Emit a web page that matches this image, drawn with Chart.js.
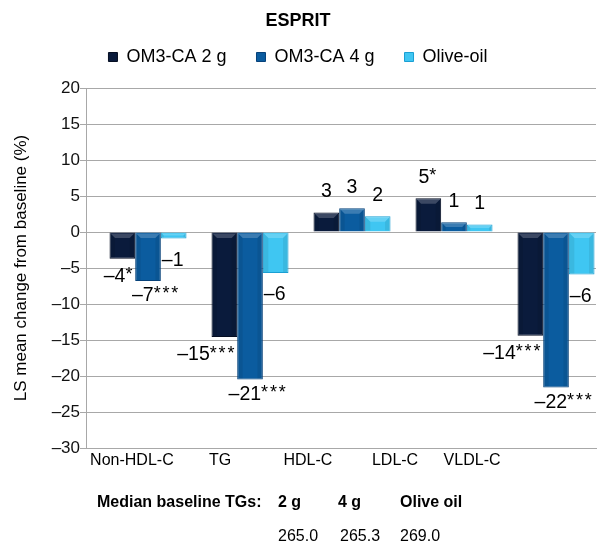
<!DOCTYPE html>
<html><head><meta charset="utf-8">
<style>html,body{margin:0;padding:0;background:#fff}#wrap{width:601px;height:544px}</style>
<script src="https://cdn.jsdelivr.net/npm/chart.js@4"></script>
</head><body><div id="wrap"><canvas id="c" width="601" height="544"></canvas></div>
<script>
// ---- data ----
const chartTitle = 'ESPRIT';
const categories = ['Non-HDL-C', 'TG', 'HDL-C', 'LDL-C', 'VLDL-C'];
const seriesNames = ['OM3-CA 2 g', 'OM3-CA 4 g', 'Olive-oil'];
const om3ca2g = [-3.7, -14.6, 2.7, 4.7, -14.4];
const om3ca4g = [-6.8, -20.5, 3.3, 1.35, -21.6];
const oliveOil = [-0.9, -5.7, 2.2, 1.05, -5.9];
const labels2g = ['\u20134*', '\u201315***', '3', '5*', '\u201314***'];
const labels4g = ['\u20137***', '\u201321***', '3', '1', '\u201322***'];
const labelsOlive = ['\u20131', '\u20136', '2', '1', '\u20136'];
const yMin = -30, yMax = 20, yStep = 5;
const yTitle = 'LS mean change from baseline (%)';
const baselineCaption = 'Median baseline TGs:';
const baselineHeaders = ['2 g', '4 g', 'Olive oil'];
const baselineTGs = ['265.0', '265.3', '269.0'];

// ---- styles ----
const FONT = "'Liberation Sans', Arial, Helvetica, sans-serif";
Chart.defaults.font.family = FONT;
Chart.defaults.color = '#000';
const fills = ['#0a1b3c', '#0b5c9f', '#3fc6f2'];
const borders = ['#050e22', '#07427a', '#1a9fd3'];
const GRID = '#a8a8a8';
const series = [om3ca2g, om3ca4g, oliveOil];
const labelSets = [labels2g, labels4g, labelsOlive];
const catLabelFrac = [0.090, 0.263, 0.435, 0.606, 0.757];

function fmtNum(v) { return v < 0 ? '\u2013' + Math.abs(v) : String(v); }

function drawValueLabel(ctx, text, x, y, align) {
  const m = text.match(/^(.*?)(\*+)$/);
  const main = m ? m[1] : text;
  const nStars = m ? m[2].length : 0;
  ctx.font = '19.5px ' + FONT;
  const mainW = ctx.measureText(main).width;
  const starAdv = 8.8;
  const total = mainW + nStars * starAdv;
  let sx = x;
  if (align === 'center') sx = x - total / 2;
  else if (align === 'right') sx = x - total;
  ctx.textAlign = 'left';
  ctx.textBaseline = 'middle';
  ctx.fillStyle = '#000';
  ctx.fillText(main, sx, y);
  ctx.font = '18px ' + FONT;
  for (let k = 0; k < nStars; k++) {
    ctx.fillText('*', sx + mainW + k * starAdv, y - 1.5);
  }
}

const decorPlugin = {
  id: 'decor',
  afterDatasetsDraw(chart) {
    const ctx = chart.ctx;
    chart.data.datasets.forEach((ds, di) => {
      const meta = chart.getDatasetMeta(di);
      meta.data.forEach((bar, i) => {
        const p = bar.getProps(['x', 'y', 'base', 'width'], true);
        const l = p.x - p.width / 2, r = p.x + p.width / 2;
        const t = Math.min(p.y, p.base), b = Math.max(p.y, p.base);
        const d = Math.max(0, Math.min(4.5, (b - t) / 2 - 1, p.width / 2 - 1));
        ctx.save();
        ctx.fillStyle = 'rgba(255,255,255,0.2)';
        ctx.beginPath();
        ctx.moveTo(l + 1, t + 1); ctx.lineTo(r - 1, t + 1);
        ctx.lineTo(r - 1 - d, t + 1 + d); ctx.lineTo(l + 1 + d, t + 1 + d);
        ctx.closePath(); ctx.fill();
        ctx.fillStyle = 'rgba(0,0,0,0.07)';
        ctx.beginPath();
        ctx.moveTo(l + 1, t + 1); ctx.lineTo(l + 1 + d, t + 1 + d);
        ctx.lineTo(l + 1 + d, b - 1); ctx.lineTo(l + 1, b - 1);
        ctx.closePath(); ctx.fill();
        ctx.beginPath();
        ctx.moveTo(r - 1, t + 1); ctx.lineTo(r - 1 - d, t + 1 + d);
        ctx.lineTo(r - 1 - d, b - 1); ctx.lineTo(r - 1, b - 1);
        ctx.closePath(); ctx.fill();
        ctx.restore();

        const text = labelSets[di][i];
        const v = series[di][i];
        ctx.save();
        if (v >= 0) {
          drawValueLabel(ctx, text, p.x, t - 21, 'center');
        } else if (di === 0) {
          drawValueLabel(ctx, text, r - 1, b + 18, 'right');
        } else if (di === 1) {
          drawValueLabel(ctx, text, p.x + 8, b + 15, 'center');
        } else {
          drawValueLabel(ctx, text, l + 1, b + 22, 'left');
        }
        ctx.restore();
      });
    });
  },
  afterDraw(chart) {
    const ctx = chart.ctx;
    const ca = chart.chartArea;
    ctx.save();
    ctx.fillStyle = '#000';
    ctx.textBaseline = 'middle';
    ctx.textAlign = 'center';
    ctx.font = '16px ' + FONT;
    categories.forEach((c, i) => {
      ctx.fillText(c, ca.left + catLabelFrac[i] * (ca.right - ca.left), ca.bottom + 13);
    });
    ctx.textAlign = 'left';
    ctx.font = 'bold 16px ' + FONT;
    ctx.fillText(baselineCaption, 97, ca.bottom + 55);
    const colX = [278, 338, 400];
    baselineHeaders.forEach((h, i) => ctx.fillText(h, colX[i], ca.bottom + 55));
    ctx.font = '16px ' + FONT;
    baselineTGs.forEach((v, i) => ctx.fillText(v, colX[i] + (i === 1 ? 2 : 0), ca.bottom + 89));
    ctx.restore();
  }
};

new Chart(document.getElementById('c'), {
  type: 'bar',
  data: {
    labels: categories,
    datasets: series.map((d, i) => ({
      label: seriesNames[i],
      data: d,
      xAxisID: 'x',
      yAxisID: 'y',
      backgroundColor: fills[i],
      borderColor: borders[i],
      borderWidth: 1,
      categoryPercentage: 0.755,
      barPercentage: 1.0
    }))
  },
  options: {
    responsive: false,
    animation: false,
    devicePixelRatio: 1,
    layout: { padding: { left: 0, right: 5, top: 0, bottom: 0 } },
    plugins: {
      title: {
        display: true, text: chartTitle, color: '#000',
        font: { size: 18, weight: 'bold', family: FONT },
        padding: { top: 10, bottom: -13.6 }
      },
      legend: {
        display: true, position: 'top',
        labels: { boxWidth: 9, boxHeight: 9, padding: 30, color: '#000', font: { size: 18, family: FONT } }
      },
      tooltip: { enabled: false }
    },
    scales: {
      x: {
        type: 'category', position: 'bottom', offset: true,
        ticks: { display: false },
        grid: { display: false, drawTicks: false },
        border: { display: true, color: GRID },
        afterDataLimits(s) { s.min = -0.108; },
        afterFit(s) { s.height = 96; }
      },
      y: {
        min: yMin, max: yMax,
        ticks: { stepSize: yStep, padding: 0, color: '#111', font: { size: 17, family: FONT }, callback: v => fmtNum(v) },
        grid: { color: GRID, tickLength: 6, lineWidth: 1 },
        border: { display: true, color: GRID },
        title: { display: true, text: yTitle, color: '#000', font: { size: 17, family: FONT }, padding: { top: 11, bottom: 0 } },
        afterFit(s) { s.width = 86; }
      },
      xTop: {
        type: 'category', position: 'top', display: true,
        ticks: { display: false }, grid: { display: false, drawTicks: false }, border: { display: false },
        afterFit(s) { s.height = 12; }
      }
    }
  },
  plugins: [decorPlugin]
});
</script></body></html>
